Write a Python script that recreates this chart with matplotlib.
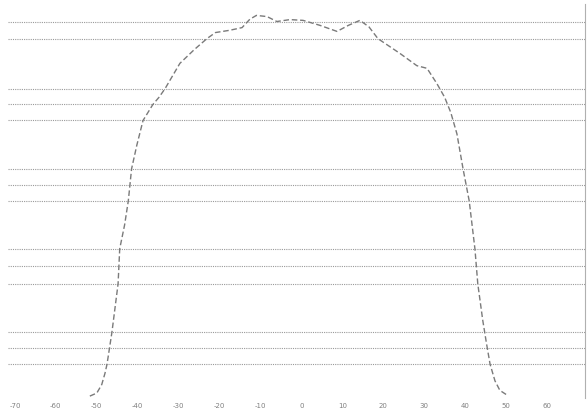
import matplotlib
matplotlib.use("Agg")
import matplotlib.pyplot as plt

# profile (x in ticks units, y normalised to peak)
x_vals = [-51.7, -50.0, -48.8, -48.0, -47.5, -46.3, -44.8, -44.4, -43.2, -42.3,
          -41.5, -40.2, -38.7, -37.5, -36.3, -34.8, -33.3, -29.7, -26.2, -23.1,
          -21.0, -17.5, -14.5, -12.6, -11.0, -8.4, -6.0, -2.8, 0.4, 4.5,
          8.7, 11.5, 14.3, 16.5, 18.7, 24.1, 28.2, 30.7, 33.1, 35.0,
          36.5, 38.0, 39.5, 41.0, 42.4, 43.1, 44.3, 45.2, 46.1, 47.3,
          48.5, 50.2]
y_vals = [0.0, 0.008, 0.03, 0.06, 0.084, 0.168, 0.295, 0.387, 0.45, 0.513,
          0.597, 0.66, 0.724, 0.745, 0.766, 0.785, 0.808, 0.874, 0.91, 0.939,
          0.955, 0.961, 0.968, 0.99, 1.0, 0.997, 0.984, 0.989, 0.987, 0.974,
          0.958, 0.974, 0.987, 0.97, 0.939, 0.90, 0.868, 0.861, 0.821, 0.785,
          0.745, 0.689, 0.597, 0.513, 0.387, 0.295, 0.2, 0.14, 0.084, 0.04,
          0.015, 0.003]

x_ticks = [-70, -60, -50, -40, -30, -20, -10, 0, 10, 20, 30, 40, 50, 60]
grid_y = [0.982, 0.939, 0.808, 0.766, 0.724, 0.597, 0.555, 0.513,
          0.387, 0.342, 0.295, 0.168, 0.126, 0.084]

fig = plt.figure(figsize=(5.87, 4.14), dpi=100)
ax = fig.add_axes([8 / 587, 15 / 414, 577 / 587, 394 / 414])

for gy in grid_y:
    ax.axhline(gy, color="#9a9a9a", linestyle=(0, (1, 1)), linewidth=0.8, zorder=1)

ax.plot(x_vals, y_vals, color="#7a7a7a", linestyle=(0, (4, 2)), linewidth=1.0, zorder=2)

ax.set_xlim(-71.7, 69.3)
ax.set_ylim(-0.005, 1.03)
ax.set_xticks(x_ticks)
ax.set_xticklabels([str(t) for t in x_ticks])
ax.set_yticks([])
ax.tick_params(axis="x", length=0, pad=3, labelsize=5, labelcolor="#808080")

for side in ["top", "left", "bottom"]:
    ax.spines[side].set_visible(False)
ax.spines["right"].set_linestyle((0, (1, 1)))
ax.spines["right"].set_color("#b0b0b0")
ax.spines["right"].set_linewidth(0.8)

fig.savefig("out.png", dpi=100)
